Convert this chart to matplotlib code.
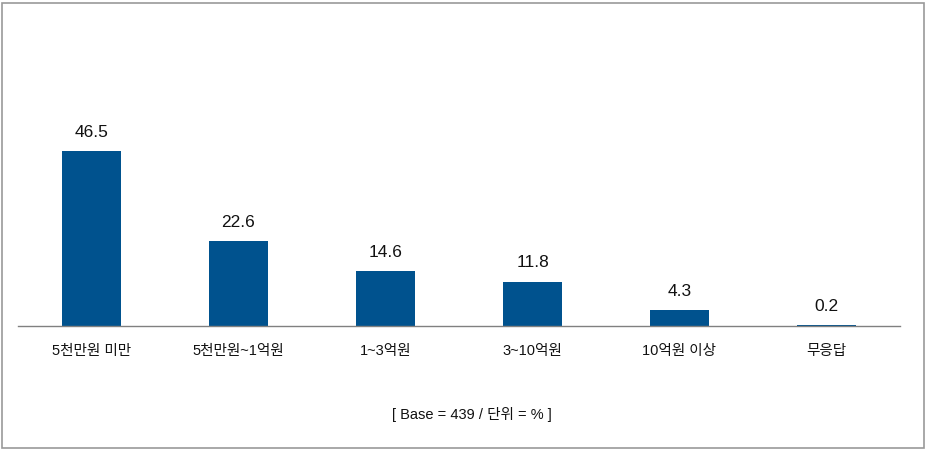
import matplotlib
matplotlib.use('Agg')
import matplotlib.pyplot as plt
from matplotlib.patches import Rectangle

plt.rcParams['font.family'] = ['Liberation Sans', 'Noto Sans CJK KR', 'DejaVu Sans']

categories = ['5천만원 미만', '5천만원~1억원', '1~3억원', '3~10억원', '10억원 이상', '무응답']
values = [46.5, 22.6, 14.6, 11.8, 4.3, 0.2]
note = '[ Base = 439 / 단위 = % ]'

fig = plt.figure(figsize=(9.26, 4.49), dpi=100)
# axes: baseline at y=326px, x from 18 to 900px
W, H = 926, 449
ax = fig.add_axes([18 / W, (H - 326) / H, 882 / W, 306 / H])

x = range(len(categories))
ax.bar(x, values, width=0.395, color='#00528E', zorder=2)
for i, v in enumerate(values):
    ax.text(i, v + 3.0, f'{v:.1f}', ha='center', va='bottom', fontsize=12.5, color='#111111')

ax.set_xlim(-0.5, len(categories) - 0.5)
ax.set_ylim(0, 81.4)
ax.set_xticks(list(x))
ax.set_xticklabels(categories, fontsize=10.5, color='#111111')
ax.tick_params(axis='x', length=0, pad=13)
ax.set_yticks([])
for s in ['top', 'right', 'left']:
    ax.spines[s].set_visible(False)
ax.spines['bottom'].set_color('#808080')
ax.spines['bottom'].set_linewidth(1.0)

fig.text(472 / W, 1 - 414 / H, note, ha='center', va='center', fontsize=10.5, color='#111111')

fig.patches.append(Rectangle((1.5 / W, 1.5 / H), (W - 4) / W, (H - 4) / H,
                             transform=fig.transFigure, fill=False,
                             edgecolor='#999999', linewidth=1.2))

fig.savefig('out.png', dpi=100)
